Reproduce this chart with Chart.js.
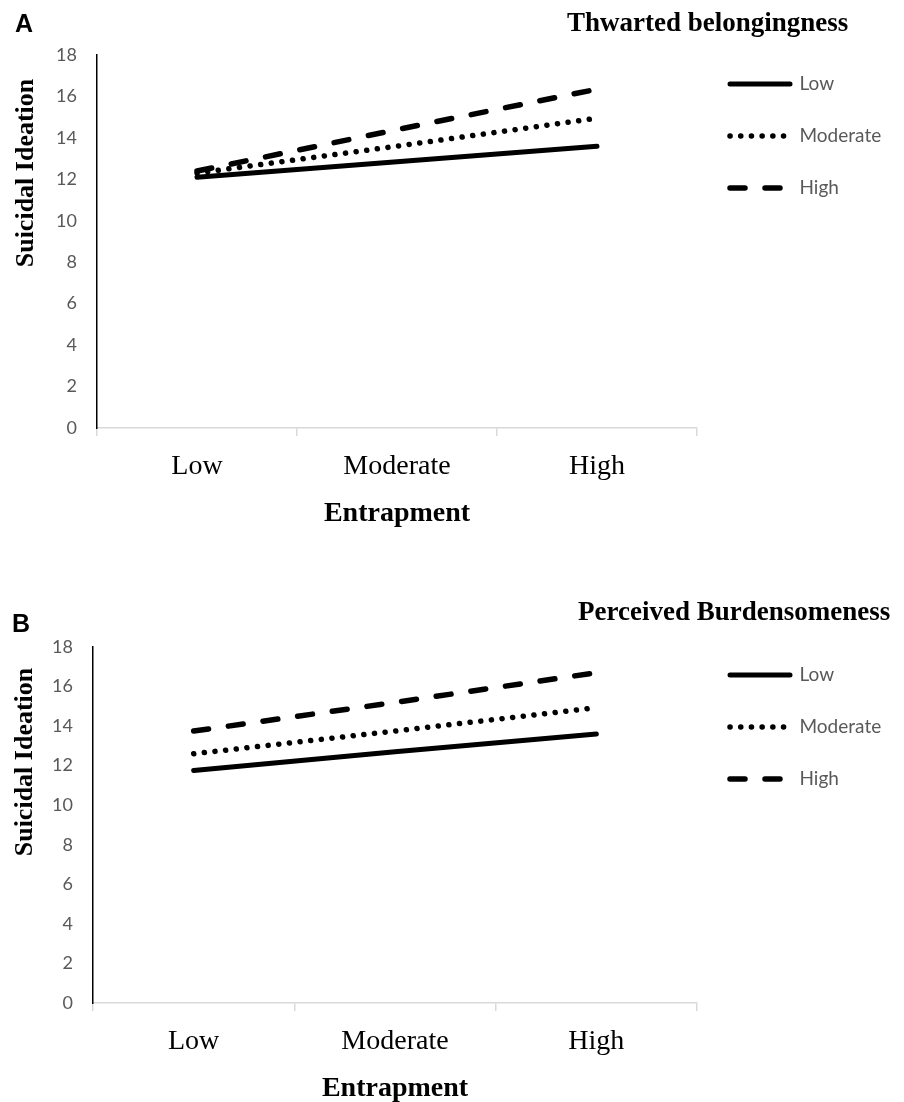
<!DOCTYPE html>
<html>
<head>
<meta charset="utf-8">
<script src="https://cdn.jsdelivr.net/npm/chart.js@4.4.1/dist/chart.umd.min.js"></script>
<style>
  body { margin: 0; background: #fff; }
  canvas { position: absolute; left: 0; }
</style>
</head>
<body>
<canvas id="chartA" width="904" height="560" style="top:0px"></canvas>
<canvas id="chartB" width="904" height="527" style="top:575px"></canvas>
<script>
// categories (x axis) and moderator levels (legend)
const entrapment = ["Low", "Moderate", "High"];
const levels = ["Low", "Moderate", "High"];

// A - Thwarted belongingness
const belongLow = [12.1, 12.85, 13.6];
const belongModerate = [12.3, 13.6, 14.95];
const belongHigh = [12.4, 14.4, 16.35];

// B - Perceived Burdensomeness
const burdenLow = [11.75, 12.7, 13.6];
const burdenModerate = [12.6, 13.75, 14.93];
const burdenHigh = [13.75, 15.2, 16.7];

const yMin = 0;
const yMax = 18;
const yStep = 2;

const tickFont = { family: "Lato", size: 18 };
const legendFont = { family: "Lato", size: 19 };
const legendPad = 33;
const legendBox = 60;
const plotRight = 697;

const lineStyles = [
  { borderWidth: 5, borderDash: [] },
  { borderWidth: 5.5, borderDash: [0.1, 10.6] },
  { borderWidth: 5.5, borderDash: [15, 20] }
];

// titles, panel letter and rotated y title
const panelText = {
  id: "panelText",
  afterDraw(chart, args, opts) {
    const ctx = chart.ctx;
    ctx.save();
    ctx.fillStyle = "#000";
    ctx.textAlign = "left";
    ctx.textBaseline = "alphabetic";
    ctx.font = "bold 25px 'Liberation Sans'";
    ctx.fillText(opts.letter, opts.letterX, opts.letterY);
    ctx.font = "bold 27px 'Liberation Serif'";
    ctx.fillText(opts.title, opts.titleX, opts.titleY);
    ctx.translate(opts.yTitleX, opts.yTitleY);
    ctx.rotate(-Math.PI / 2);
    ctx.textAlign = "center";
    ctx.font = "bold 26px 'Liberation Serif'";
    ctx.fillText("Suicidal Ideation", 0, 0);
    ctx.restore();
  }
};

function makeChart(p) {
  const padding = { left: 50, right: 20, top: p.legendTop, bottom: p.padBottom };

  const chart = new Chart(document.getElementById(p.id), {
    type: "line",
    data: {
      labels: entrapment,
      datasets: p.series.map((values, i) => ({
        label: levels[i],
        data: values,
        borderColor: "#000",
        backgroundColor: "#000",
        borderWidth: lineStyles[i].borderWidth,
        borderDash: lineStyles[i].borderDash,
        borderCapStyle: "round",
        borderJoinStyle: "round",
        pointRadius: 0,
        pointHoverRadius: 0,
        pointStyle: "line",
        tension: 0,
        fill: false
      }))
    },
    options: {
      responsive: false,
      animation: false,
      layout: { padding: padding },
      scales: {
        x: {
          offset: true,
          grid: {
            offset: true,
            drawOnChartArea: false,
            drawTicks: true,
            tickLength: 8,
            color: "#d9d9d9",
            lineWidth: 1.5
          },
          border: { display: true, color: "#d9d9d9", width: 1.5 },
          ticks: {
            color: "#000",
            padding: 14,
            maxRotation: 0,
            font: { family: "Liberation Serif", size: 28 }
          },
          title: {
            display: true,
            text: "Entrapment",
            color: "#000",
            padding: { top: 2, bottom: 0 },
            font: { family: "Liberation Serif", size: 28, weight: "bold", lineHeight: 1 }
          }
        },
        y: {
          min: yMin,
          max: yMax,
          grid: { display: false, drawTicks: false },
          border: { display: true, color: "#000", width: 1.5 },
          ticks: {
            stepSize: yStep,
            color: "#595959",
            padding: 20,
            font: tickFont
          },
          afterFit(scale) {
            scale.paddingTop = p.plotTop;
          }
        }
      },
      plugins: {
        legend: {
          position: "right",
          align: "start",
          labels: {
            usePointStyle: true,
            pointStyleWidth: legendBox,
            padding: legendPad,
            color: "#595959",
            font: legendFont,
            generateLabels(chart) {
              const items = Chart.defaults.plugins.legend.labels.generateLabels(chart);
              items.forEach(item => {
                const ds = chart.data.datasets[item.datasetIndex];
                item.lineDash = ds.borderDash;
                item.lineWidth = ds.borderWidth;
                item.lineCap = "round";
                item.strokeStyle = "#000";
              });
              return items;
            }
          }
        },
        tooltip: { enabled: false },
        panelText: p.text
      }
    },
    plugins: [panelText]
  });

  // nudge the layout padding so the plot box lands where the figure has it
  const ca = chart.chartArea;
  padding.left += p.plotLeft - ca.left;
  padding.right += ca.right - plotRight;
  padding.bottom += ca.bottom - p.plotBottom;
  chart.update();
  return chart;
}

makeChart({
  id: "chartA",
  plotLeft: 97,
  plotTop: 55,
  plotBottom: 428,
  legendTop: 41.5,
  padBottom: 20,
  series: [belongLow, belongModerate, belongHigh],
  text: {
    letter: "A", letterX: 15, letterY: 32,
    title: "Thwarted belongingness", titleX: 567, titleY: 31,
    yTitleX: 33, yTitleY: 173
  }
});

makeChart({
  id: "chartB",
  plotLeft: 93,
  plotTop: 72,
  plotBottom: 428,
  legendTop: 57.5,
  padBottom: 10,
  series: [burdenLow, burdenModerate, burdenHigh],
  text: {
    letter: "B", letterX: 12, letterY: 57,
    title: "Perceived Burdensomeness", titleX: 578, titleY: 45,
    yTitleX: 32, yTitleY: 187
  }
});
</script>
</body>
</html>
